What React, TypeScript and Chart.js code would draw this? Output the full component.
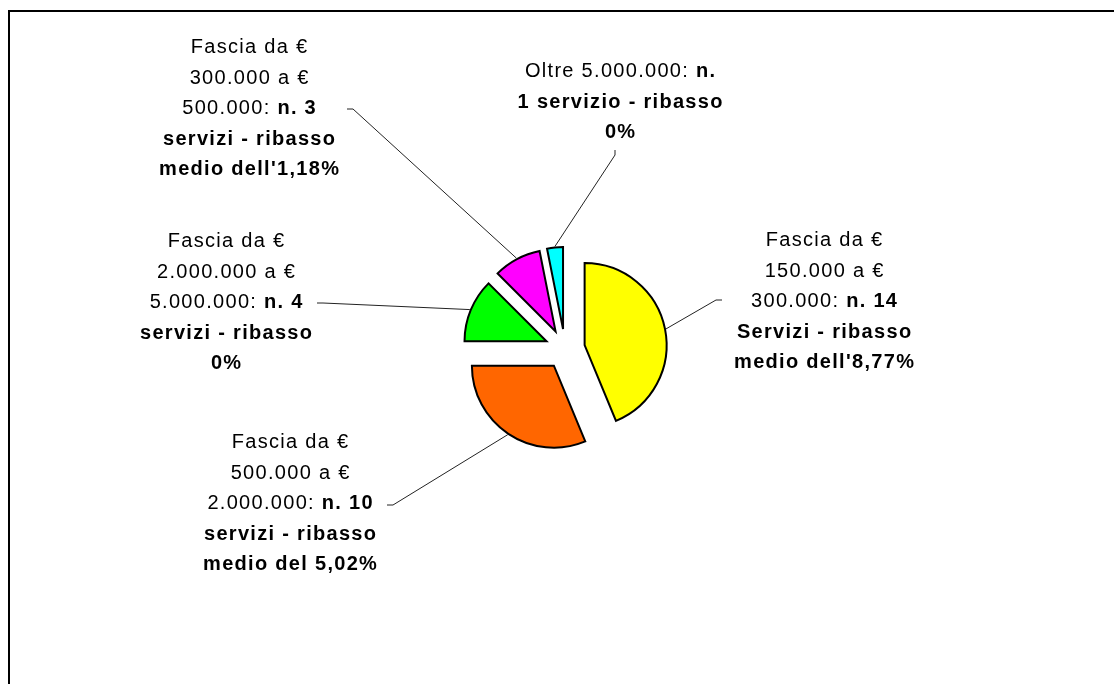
import React, { useEffect, useRef } from 'react';
import { Chart, registerables } from 'chart.js';

Chart.register(...registerables);

// ---- data ----
const categories = [
  'Fascia da € 150.000 a € 300.000',
  'Fascia da € 500.000 a € 2.000.000',
  'Fascia da € 2.000.000 a € 5.000.000',
  'Fascia da € 300.000 a € 500.000',
  'Oltre 5.000.000',
];
const serviceCounts = [14, 10, 4, 3, 1];
const sliceColors = ['#FFFF00', '#FF6600', '#00FF00', '#FF00FF', '#00FFFF'];

type Seg = { t: string; b?: boolean };
const labelTexts: Seg[][][] = [
  [
    [{ t: 'Fascia da €' }],
    [{ t: '150.000 a €' }],
    [{ t: '300.000: ' }, { t: 'n. 14', b: true }],
    [{ t: 'Servizi - ribasso', b: true }],
    [{ t: "medio dell'8,77%", b: true }],
  ],
  [
    [{ t: 'Fascia da €' }],
    [{ t: '500.000 a €' }],
    [{ t: '2.000.000: ' }, { t: 'n. 10', b: true }],
    [{ t: 'servizi - ribasso', b: true }],
    [{ t: 'medio del 5,02%', b: true }],
  ],
  [
    [{ t: 'Fascia da €' }],
    [{ t: '2.000.000 a €' }],
    [{ t: '5.000.000: ' }, { t: 'n. 4', b: true }],
    [{ t: 'servizi - ribasso', b: true }],
    [{ t: '0%', b: true }],
  ],
  [
    [{ t: 'Fascia da €' }],
    [{ t: '300.000 a €' }],
    [{ t: '500.000: ' }, { t: 'n. 3', b: true }],
    [{ t: 'servizi - ribasso', b: true }],
    [{ t: "medio dell'1,18%", b: true }],
  ],
  [
    [{ t: 'Oltre 5.000.000: ' }, { t: 'n.', b: true }],
    [{ t: '1 servizio - ribasso', b: true }],
    [{ t: '0%', b: true }],
  ],
];

// ---- layout (canvas pixel coordinates of label blocks and leader-line starts) ----
const labelLayout = [
  { cx: 816, y0: 238, leader: [[714, 292], [708, 292]] },
  { cx: 282, y0: 440, leader: [[379, 497], [385, 497]] },
  { cx: 218, y0: 239, leader: [[309, 295], [315, 295]] },
  { cx: 241, y0: 45, leader: [[339, 101], [345, 101]] },
  { cx: 612, y0: 69, leader: [[607, 142], [607, 147]] },
];
const LINE_H = 30.6;
const FONT_SIZE = 20;
const LETTER_SP = 1.3;
const EXPLODE = 20;
const PIE_RADIUS = 82;

const fontOf = (b?: boolean) =>
  `${b ? 'bold ' : ''}${FONT_SIZE}px "Liberation Sans", Arial, Helvetica, sans-serif`;

const explodePlugin = {
  id: 'explode',
  afterUpdate(chart: any) {
    const meta = chart.getDatasetMeta(0);
    meta.data.forEach((arc: any) => {
      const mid = (arc.startAngle + arc.endAngle) / 2;
      arc.x += Math.cos(mid) * EXPLODE;
      arc.y += Math.sin(mid) * EXPLODE;
    });
  },
};

const labelPlugin = {
  id: 'sliceLabels',
  afterDraw(chart: any) {
    const ctx: CanvasRenderingContext2D = chart.ctx;
    const meta = chart.getDatasetMeta(0);
    ctx.save();
    meta.data.forEach((arc: any, i: number) => {
      const lay = labelLayout[i];
      const mid = (arc.startAngle + arc.endAngle) / 2;
      const r = arc.outerRadius + 1;
      const ex = arc.x + Math.cos(mid) * r;
      const ey = arc.y + Math.sin(mid) * r;
      ctx.strokeStyle = '#222';
      ctx.lineWidth = 1;
      ctx.beginPath();
      ctx.moveTo(lay.leader[0][0], lay.leader[0][1]);
      for (let k = 1; k < lay.leader.length; k++) ctx.lineTo(lay.leader[k][0], lay.leader[k][1]);
      ctx.lineTo(ex, ey);
      ctx.stroke();

      ctx.fillStyle = '#000';
      ctx.textBaseline = 'alphabetic';
      ctx.textAlign = 'left';
      labelTexts[i].forEach((line, li) => {
        let total = 0;
        let count = 0;
        line.forEach((seg) => {
          ctx.font = fontOf(seg.b);
          for (const ch of seg.t) {
            total += ctx.measureText(ch).width;
            count++;
          }
        });
        total += (count - 1) * LETTER_SP;
        let x = lay.cx - total / 2;
        const y = lay.y0 + li * LINE_H;
        line.forEach((seg) => {
          ctx.font = fontOf(seg.b);
          for (const ch of seg.t) {
            ctx.fillText(ch, x, y);
            x += ctx.measureText(ch).width + LETTER_SP;
          }
        });
      });
    });
    ctx.restore();
  },
};

export default function App() {
  const ref = useRef<HTMLCanvasElement | null>(null);
  useEffect(() => {
    if (!ref.current) return;
    const chart = new Chart(ref.current, {
      type: 'pie',
      data: {
        labels: categories,
        datasets: [
          {
            data: serviceCounts,
            backgroundColor: sliceColors,
            borderColor: '#000',
            borderWidth: 2,
            borderJoinStyle: 'miter',
            radius: PIE_RADIUS,
          } as any,
        ],
      },
      options: {
        responsive: false,
        animation: false,
        devicePixelRatio: 1,
        events: [],
        layout: { padding: { left: 8, top: 14, right: 0, bottom: 0 } },
        plugins: {
          legend: { display: false },
          tooltip: { enabled: false },
        },
      },
      plugins: [explodePlugin, labelPlugin],
    });
    return () => chart.destroy();
  }, []);

  return (
    <div style={{ position: 'relative', width: 1106, height: 668 }}>
      <div
        style={{
          position: 'fixed',
          left: 8,
          top: 10,
          width: 2000,
          height: 2000,
          borderTop: '2px solid #000',
          borderLeft: '2px solid #000',
          pointerEvents: 'none',
        }}
      />
      <canvas ref={ref} width={1106} height={668} style={{ display: 'block' }} />
    </div>
  );
}
